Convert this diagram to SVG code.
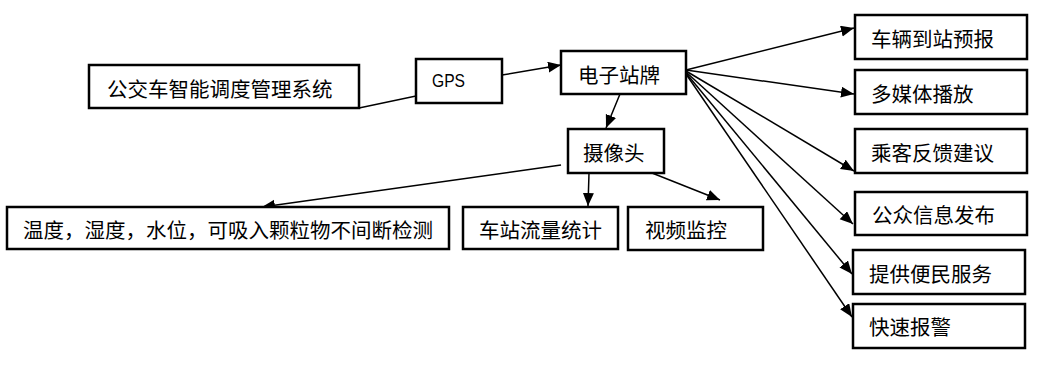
<svg xmlns="http://www.w3.org/2000/svg" width="1038" height="377" viewBox="0 0 1038 377">
<style>
.box{fill:#fff;stroke:#000;stroke-width:2.5}
.t{font-family:"Noto Sans CJK SC","Liberation Sans",sans-serif;font-size:20.5px;fill:#000;dominant-baseline:central}
.e{font-family:"Liberation Sans","Noto Sans CJK SC",sans-serif;font-size:18px;fill:#000;dominant-baseline:central}
.c{stroke:#000;stroke-width:1.5;fill:none}
.a{marker-end:url(#ah)}
</style>
<defs>
<marker id="ah" markerUnits="userSpaceOnUse" markerWidth="14" markerHeight="12" refX="13" refY="5.5" orient="auto">
<path d="M0,0 L13,5.5 L0,11 z" fill="#000"/>
</marker>
</defs>
<rect width="1038" height="377" fill="#fff"/>
<g id="connectors">
<line class="c" x1="359" y1="108" x2="416" y2="96"/>
<line class="c a" x1="502" y1="75" x2="561" y2="65"/>
<line class="c a" x1="620" y1="94" x2="606" y2="128"/>
<line class="c a" x1="561" y1="165" x2="262" y2="207"/>
<line class="c a" x1="589" y1="173" x2="588" y2="206"/>
<line class="c a" x1="652" y1="173" x2="720" y2="200"/>
<line class="c a" x1="686" y1="70" x2="854" y2="28"/>
<line class="c a" x1="686" y1="70" x2="854" y2="94"/>
<line class="c a" x1="686" y1="71" x2="854" y2="171"/>
<line class="c a" x1="686" y1="72" x2="853" y2="224"/>
<line class="c a" x1="686" y1="73" x2="852" y2="274"/>
<line class="c a" x1="686" y1="74" x2="852" y2="317"/>
</g>
<g id="n-system"><rect class="box" x="89" y="65" width="270" height="43"/><text class="t" x="107" y="88">公交车智能调度管理系统</text></g>
<g id="n-gps"><rect class="box" x="416" y="59" width="86" height="44"/><text class="e" x="432" y="81" textLength="33" lengthAdjust="spacingAndGlyphs">GPS</text></g>
<g id="n-board"><rect class="box" x="561" y="51" width="125" height="43"/><text class="t" x="578" y="74">电子站牌</text></g>
<g id="n-camera"><rect class="box" x="568" y="129" width="96" height="44"/><text class="t" x="583" y="152">摄像头</text></g>
<g id="n-env"><rect class="box" x="7" y="207" width="442" height="42"/><text class="t" x="23" y="229">温度，湿度，水位，可吸入颗粒物不间断检测</text></g>
<g id="n-flow"><rect class="box" x="463" y="207" width="155" height="42"/><text class="t" x="479" y="229">车站流量统计</text></g>
<g id="n-video"><rect class="box" x="628" y="207" width="135" height="43"/><text class="t" x="645" y="229">视频监控</text></g>
<g id="n-arrival"><rect class="box" x="855" y="15" width="172" height="44"/><text class="t" x="871" y="38">车辆到站预报</text></g>
<g id="n-media"><rect class="box" x="855" y="70" width="172" height="44"/><text class="t" x="871" y="93">多媒体播放</text></g>
<g id="n-feedback"><rect class="box" x="855" y="129" width="172" height="44"/><text class="t" x="871" y="152">乘客反馈建议</text></g>
<g id="n-publish"><rect class="box" x="855" y="192" width="172" height="43"/><text class="t" x="872" y="214">公众信息发布</text></g>
<g id="n-service"><rect class="box" x="853" y="250" width="172" height="44"/><text class="t" x="869" y="273">提供便民服务</text></g>
<g id="n-alarm"><rect class="box" x="853" y="304" width="172" height="44"/><text class="t" x="869" y="326">快速报警</text></g>
</svg>
